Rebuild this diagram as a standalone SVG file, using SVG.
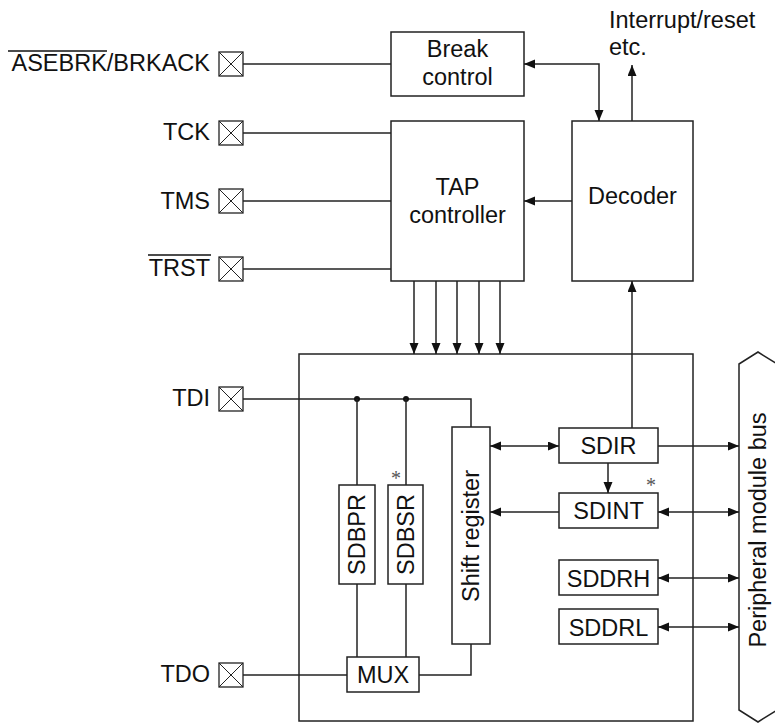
<svg xmlns="http://www.w3.org/2000/svg" width="775" height="723" viewBox="0 0 775 723">
<style>
  .box{fill:#fff;stroke:#222;stroke-width:1.5}
  .frame{fill:none;stroke:#222;stroke-width:1.5}
  .ln{fill:none;stroke:#222;stroke-width:1.5}
  .pin{fill:#fff;stroke:#222;stroke-width:1.3}
  .pinx{stroke:#222;stroke-width:1}
  text{font-family:"Liberation Sans",Arial,sans-serif;font-size:23.5px;fill:#111}
  .m{text-anchor:middle}
  .e{text-anchor:end}
  .ast{font-family:"Liberation Serif","Times New Roman",serif;font-size:20px;fill:#555;text-anchor:middle}
</style>
<defs>
  <marker id="ah" markerUnits="userSpaceOnUse" markerWidth="12" markerHeight="10" refX="11" refY="4.5" orient="auto-start-reverse">
    <path d="M0,0 L11,4.5 L0,9 z" fill="#111"/>
  </marker>
  <g id="pinbox">
    <rect class="pin" x="0" y="0" width="24" height="24"/>
    <path class="pinx" d="M0,0 L24,24 M24,0 L0,24"/>
  </g>
</defs>

<!-- pins -->
<g id="pin-asebrk">
  <use href="#pinbox" x="219" y="52"/>
  <text class="e" x="210" y="71">ASEBRK/BRKACK</text>
  <line x1="8" y1="51" x2="107" y2="51" stroke="#111" stroke-width="1.3"/>
</g>
<g id="pin-tck">
  <use href="#pinbox" x="219" y="121"/>
  <text class="e" x="210" y="140">TCK</text>
</g>
<g id="pin-tms">
  <use href="#pinbox" x="219" y="189"/>
  <text class="e" x="210" y="209">TMS</text>
</g>
<g id="pin-trst">
  <use href="#pinbox" x="219" y="257"/>
  <text class="e" x="210" y="276">TRST</text>
  <line x1="148" y1="255" x2="211" y2="255" stroke="#111" stroke-width="1.3"/>
</g>
<g id="pin-tdi">
  <use href="#pinbox" x="219" y="387"/>
  <text class="e" x="210" y="406">TDI</text>
</g>
<g id="pin-tdo">
  <use href="#pinbox" x="219" y="663"/>
  <text class="e" x="210" y="682">TDO</text>
</g>

<!-- main frame -->
<g id="frame">
  <rect class="frame" x="299" y="354" width="394" height="367"/>
</g>

<!-- nodes -->
<g id="break-control">
  <rect class="box" x="391" y="32" width="133" height="64"/>
  <text class="m" x="457.5" y="57">Break</text>
  <text class="m" x="457.5" y="85">control</text>
</g>
<g id="tap-controller">
  <rect class="box" x="391" y="121" width="133" height="160"/>
  <text class="m" x="457.5" y="195">TAP</text>
  <text class="m" x="457.5" y="223">controller</text>
</g>
<g id="decoder">
  <rect class="box" x="572" y="121" width="121" height="160"/>
  <text class="m" x="632.5" y="204">Decoder</text>
</g>
<g id="interrupt-label">
  <text x="609" y="28">Interrupt/reset</text>
  <text x="609" y="55">etc.</text>
</g>
<g id="sdbpr">
  <rect class="box" x="339" y="485" width="36" height="99"/>
  <text class="m" transform="translate(357,534.5) rotate(-90)" x="0" y="8.4">SDBPR</text>
</g>
<g id="sdbsr">
  <rect class="box" x="388" y="485" width="35" height="99"/>
  <text class="m" transform="translate(405.5,534.5) rotate(-90)" x="0" y="8.4">SDBSR</text>
  <text class="ast" x="396" y="485">*</text>
</g>
<g id="shift-register">
  <rect class="box" x="452" y="427" width="38" height="217"/>
  <text class="m" transform="translate(471,536) rotate(-90)" x="0" y="8.4">Shift register</text>
</g>
<g id="mux">
  <rect class="box" x="347" y="657" width="72" height="35"/>
  <text class="m" x="383" y="683">MUX</text>
</g>
<g id="sdir">
  <rect class="box" x="559" y="428" width="99" height="35"/>
  <text class="m" x="608.5" y="454">SDIR</text>
</g>
<g id="sdint">
  <rect class="box" x="559" y="493" width="99" height="35"/>
  <text class="m" x="608.5" y="519">SDINT</text>
  <text class="ast" x="651" y="492">*</text>
</g>
<g id="sddrh">
  <rect class="box" x="559" y="560" width="99" height="35"/>
  <text class="m" x="608.5" y="587">SDDRH</text>
</g>
<g id="sddrl">
  <rect class="box" x="559" y="609" width="99" height="35"/>
  <text class="m" x="608.5" y="636">SDDRL</text>
</g>
<g id="peripheral-bus">
  <path class="box" d="M739,364 L758,352 L777,364 L777,710 L758,722 L739,710 Z"/>
  <text class="m" transform="translate(757.5,530) rotate(-90)" x="0" y="8.4">Peripheral module bus</text>
</g>

<!-- connectors -->
<g id="connectors">
  <path class="ln" d="M243,64 H391"/>
  <path class="ln" d="M243,133 H391"/>
  <path class="ln" d="M243,201 H391"/>
  <path class="ln" d="M243,269 H391"/>
  <path class="ln" d="M524,64 H599 V121" marker-start="url(#ah)" marker-end="url(#ah)"/>
  <path class="ln" d="M572,201 H524" marker-end="url(#ah)"/>
  <path class="ln" d="M632,121 V65" marker-end="url(#ah)"/>
  <path class="ln" d="M414,281 V354" marker-end="url(#ah)"/>
  <path class="ln" d="M436,281 V354" marker-end="url(#ah)"/>
  <path class="ln" d="M457,281 V354" marker-end="url(#ah)"/>
  <path class="ln" d="M479,281 V354" marker-end="url(#ah)"/>
  <path class="ln" d="M500,281 V354" marker-end="url(#ah)"/>
  <path class="ln" d="M632,428 V281" marker-end="url(#ah)"/>
  <path class="ln" d="M243,399 H471 V427"/>
  <circle cx="357" cy="399" r="3" fill="#111"/>
  <circle cx="406" cy="399" r="3" fill="#111"/>
  <path class="ln" d="M357,399 V485"/>
  <path class="ln" d="M406,399 V485"/>
  <path class="ln" d="M357,584 V657"/>
  <path class="ln" d="M406,584 V657"/>
  <path class="ln" d="M471,644 V675 H419"/>
  <path class="ln" d="M347,675 H243"/>
  <path class="ln" d="M490,446 H559" marker-start="url(#ah)" marker-end="url(#ah)"/>
  <path class="ln" d="M658,446 H739" marker-end="url(#ah)"/>
  <path class="ln" d="M608,463 V493" marker-end="url(#ah)"/>
  <path class="ln" d="M559,512 H490" marker-end="url(#ah)"/>
  <path class="ln" d="M658,512 H739" marker-start="url(#ah)" marker-end="url(#ah)"/>
  <path class="ln" d="M658,578 H739" marker-start="url(#ah)" marker-end="url(#ah)"/>
  <path class="ln" d="M658,627 H739" marker-start="url(#ah)" marker-end="url(#ah)"/>
</g>
</svg>
